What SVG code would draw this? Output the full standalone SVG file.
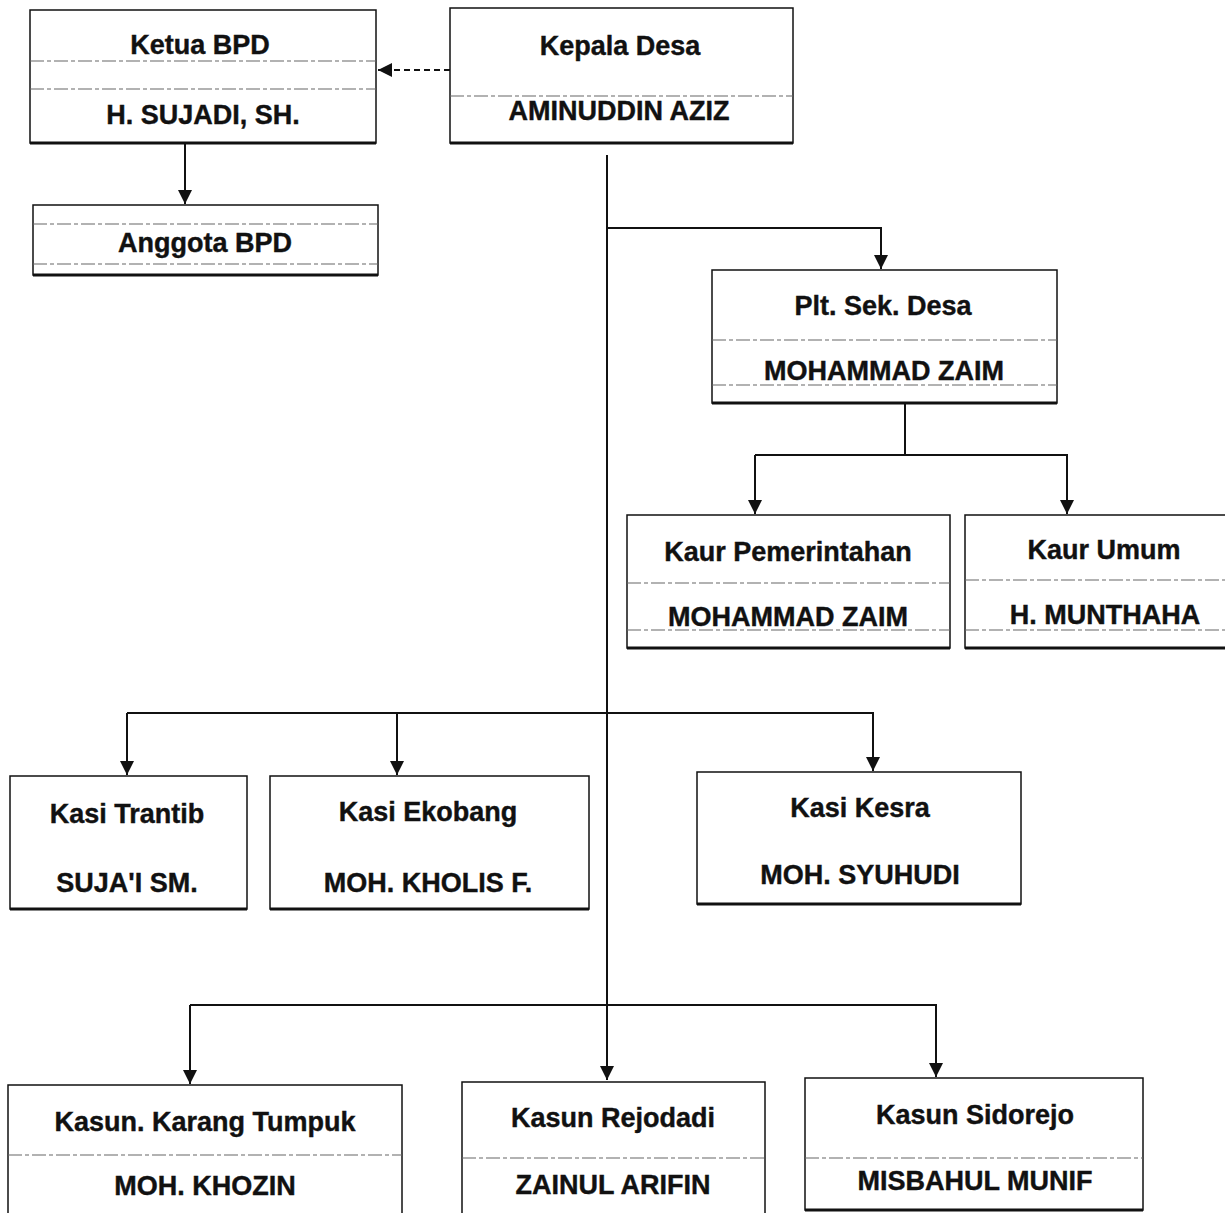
<svg xmlns="http://www.w3.org/2000/svg" width="1225" height="1213" viewBox="0 0 1225 1213">
<style>
.box{fill:#fff;stroke:#111;stroke-width:1.5}
.sh{stroke:#111;stroke-width:3;fill:none}
.div{stroke:#666;stroke-width:1.2;stroke-dasharray:14 3 4 3;fill:none}
.t{font-family:"Liberation Sans",Arial,sans-serif;font-weight:bold;font-size:27px;fill:#111;stroke:#111;stroke-width:0.4;text-anchor:middle}
.c{stroke:#111;stroke-width:2;fill:none}
</style>
<defs>
<marker id="a" viewBox="0 0 10 10" refX="10" refY="5" markerWidth="8" markerHeight="7" orient="auto">
<path d="M0,0 L10,5 L0,10 z" fill="#111"/>
</marker>
</defs>
<rect width="1225" height="1213" fill="#fff"/>

<g id="connectors">
<line class="c" x1="450" y1="70" x2="378" y2="70" stroke-dasharray="6 4" marker-end="url(#a)"/>
<line class="c" x1="185" y1="143" x2="185" y2="204" marker-end="url(#a)"/>
<polyline class="c" points="607,155 607,228 881,228 881,269" marker-end="url(#a)"/>
<line class="c" x1="905" y1="403" x2="905" y2="455"/>
<polyline class="c" points="755,455 1067,455 1067,514" marker-end="url(#a)"/>
<line class="c" x1="755" y1="455" x2="755" y2="514" marker-end="url(#a)"/>
<line class="c" x1="607" y1="228" x2="607" y2="1080" marker-end="url(#a)"/>
<polyline class="c" points="127,713 873,713 873,771" marker-end="url(#a)"/>
<line class="c" x1="127" y1="713" x2="127" y2="775" marker-end="url(#a)"/>
<line class="c" x1="397" y1="713" x2="397" y2="775" marker-end="url(#a)"/>
<polyline class="c" points="190,1005 936,1005 936,1077" marker-end="url(#a)"/>
<line class="c" x1="190" y1="1005" x2="190" y2="1084" marker-end="url(#a)"/>
</g>

<g id="ketua-bpd">
<rect class="box" x="30" y="10" width="346" height="133"/>
<line class="sh" x1="30" y1="143" x2="376" y2="143"/>
<line class="div" x1="30" y1="61" x2="376" y2="61"/>
<line class="div" x1="30" y1="89" x2="376" y2="89"/>
<text class="t" x="200" y="54">Ketua BPD</text>
<text class="t" x="203" y="124">H. SUJADI, SH.</text>
</g>

<g id="anggota-bpd">
<rect class="box" x="33" y="205" width="345" height="70"/>
<line class="sh" x1="33" y1="275" x2="378" y2="275"/>
<line class="div" x1="33" y1="224" x2="378" y2="224"/>
<line class="div" x1="33" y1="264" x2="378" y2="264"/>
<text class="t" x="205" y="252">Anggota BPD</text>
</g>

<g id="kepala-desa">
<rect class="box" x="450" y="8" width="343" height="135"/>
<line class="sh" x1="450" y1="143" x2="793" y2="143"/>
<line class="div" x1="450" y1="96" x2="793" y2="96"/>
<text class="t" x="620" y="55">Kepala Desa</text>
<text class="t" x="619" y="120">AMINUDDIN AZIZ</text>
</g>

<g id="plt-sek-desa">
<rect class="box" x="712" y="270" width="345" height="133"/>
<line class="sh" x1="712" y1="403" x2="1057" y2="403"/>
<line class="div" x1="712" y1="340" x2="1057" y2="340"/>
<line class="div" x1="712" y1="385" x2="1057" y2="385"/>
<text class="t" x="883" y="315">Plt. Sek. Desa</text>
<text class="t" x="884" y="380">MOHAMMAD ZAIM</text>
</g>

<g id="kaur-pemerintahan">
<rect class="box" x="627" y="515" width="323" height="133"/>
<line class="sh" x1="627" y1="648" x2="950" y2="648"/>
<line class="div" x1="627" y1="583" x2="950" y2="583"/>
<line class="div" x1="627" y1="630" x2="950" y2="630"/>
<text class="t" x="788" y="561">Kaur Pemerintahan</text>
<text class="t" x="788" y="626">MOHAMMAD ZAIM</text>
</g>

<g id="kaur-umum">
<rect class="box" x="965" y="515" width="270" height="133"/>
<line class="sh" x1="965" y1="648" x2="1225" y2="648"/>
<line class="div" x1="965" y1="580" x2="1225" y2="580"/>
<line class="div" x1="965" y1="630" x2="1225" y2="630"/>
<text class="t" x="1104" y="559">Kaur Umum</text>
<text class="t" x="1105" y="624">H. MUNTHAHA</text>
</g>

<g id="kasi-trantib">
<rect class="box" x="10" y="776" width="237" height="133"/>
<line class="sh" x1="10" y1="909" x2="247" y2="909"/>
<text class="t" x="127" y="823">Kasi Trantib</text>
<text class="t" x="127" y="892">SUJA'I SM.</text>
</g>

<g id="kasi-ekobang">
<rect class="box" x="270" y="776" width="319" height="133"/>
<line class="sh" x1="270" y1="909" x2="589" y2="909"/>
<text class="t" x="428" y="821">Kasi Ekobang</text>
<text class="t" x="428" y="892">MOH. KHOLIS F.</text>
</g>

<g id="kasi-kesra">
<rect class="box" x="697" y="772" width="324" height="132"/>
<line class="sh" x1="697" y1="904" x2="1021" y2="904"/>
<text class="t" x="860" y="817">Kasi Kesra</text>
<text class="t" x="860" y="884">MOH. SYUHUDI</text>
</g>

<g id="kasun-karang-tumpuk">
<rect class="box" x="8" y="1085" width="394" height="140"/>
<line class="div" x1="8" y1="1155" x2="402" y2="1155"/>
<text class="t" x="205" y="1131">Kasun. Karang Tumpuk</text>
<text class="t" x="205" y="1195">MOH. KHOZIN</text>
</g>

<g id="kasun-rejodadi">
<rect class="box" x="462" y="1082" width="303" height="140"/>
<line class="div" x1="462" y1="1158" x2="765" y2="1158"/>
<text class="t" x="613" y="1127">Kasun Rejodadi</text>
<text class="t" x="613" y="1194">ZAINUL ARIFIN</text>
</g>

<g id="kasun-sidorejo">
<rect class="box" x="805" y="1078" width="338" height="132"/>
<line class="sh" x1="805" y1="1210" x2="1143" y2="1210"/>
<line class="div" x1="805" y1="1158" x2="1143" y2="1158"/>
<text class="t" x="975" y="1124">Kasun Sidorejo</text>
<text class="t" x="975" y="1190">MISBAHUL MUNIF</text>
</g>
</svg>
